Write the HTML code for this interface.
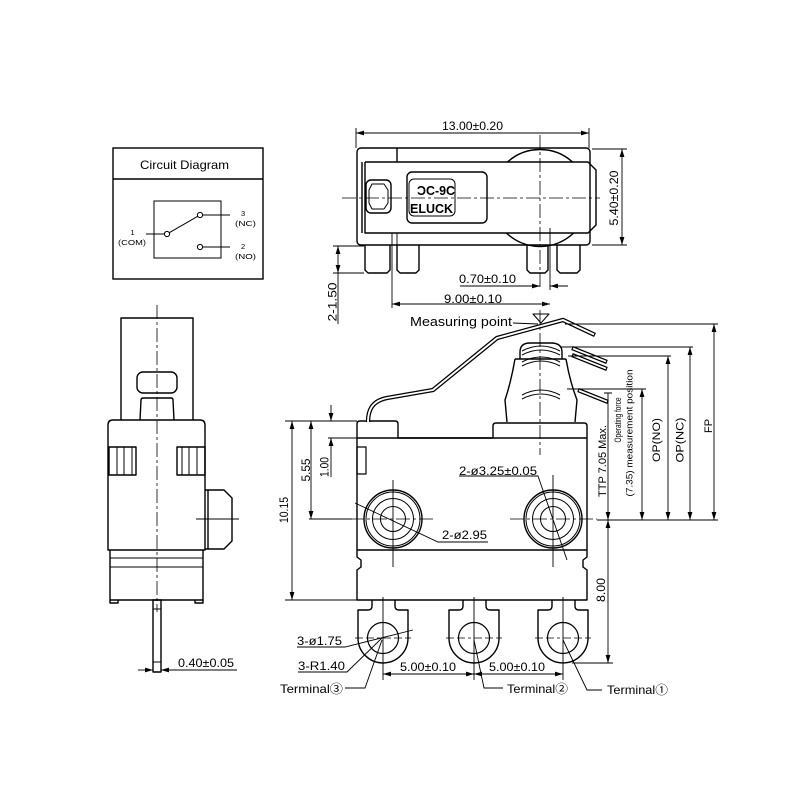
<!DOCTYPE html>
<html><head><meta charset="utf-8"><style>
html,body{margin:0;padding:0;background:#fff}
svg{display:block}
text{font-family:"Liberation Sans","Noto Sans CJK JP","DejaVu Sans",sans-serif;fill:#000}
</style></head><body>
<svg xmlns="http://www.w3.org/2000/svg" width="800" height="800" viewBox="0 0 800 800">
<defs>
<marker id="a" viewBox="0 0 10 6" refX="10" refY="3" markerWidth="8" markerHeight="5" markerUnits="userSpaceOnUse" orient="auto-start-reverse"><path d="M0,0L10,3L0,6z" fill="#000"/></marker>
</defs>
<rect width="800" height="800" fill="#fff"/>

<!-- ===== Circuit diagram ===== -->
<g fill="none" stroke="#000" stroke-width="1.4">
<rect x="113" y="148" width="150" height="131"/>
<line x1="113" y1="179" x2="263" y2="179"/>
<rect x="154" y="201" width="67" height="57" stroke-width="1"/>
<g stroke-width="1">
<circle cx="167" cy="234" r="2.6"/><circle cx="200" cy="215" r="2.6"/><circle cx="200" cy="247" r="2.6"/>
<path d="M146,234H164.4M169.3,232.7L197.7,216.3M202.6,215H230M202.6,247H230"/>
</g>
</g>
<g font-size="12"><text x="140" y="169" textLength="89" lengthAdjust="spacingAndGlyphs">Circuit Diagram</text></g>
<g font-size="7.5">
<text x="130.5" y="235">1</text><text x="118" y="245" textLength="28" lengthAdjust="spacingAndGlyphs">(COM)</text>
<text x="241" y="216">3</text><text x="235" y="226" textLength="21" lengthAdjust="spacingAndGlyphs">(NC)</text>
<text x="241" y="249">2</text><text x="235" y="259" textLength="21" lengthAdjust="spacingAndGlyphs">(NO)</text>
</g>

<!-- ===== Top view ===== -->
<g fill="none" stroke="#000" stroke-width="1.4" stroke-linejoin="round">
<rect x="357" y="148" width="233" height="97" rx="4"/>
<path d="M397,148V162"/>
<path d="M362,162V233M365,162H588L596,170V225L588,233H365V162"/>
<path d="M507.5,162A48.5,48.5 0 0 1 572.5,162M506.4,233A48.5,48.5 0 0 0 573.6,233"/>
<rect x="407" y="172" width="80" height="51" rx="5"/>
<rect x="409" y="179" width="46" height="37" rx="5" stroke-width="1"/>
<rect x="366" y="180" width="25" height="33" rx="5"/>
<path d="M372,184H384L388,190V203L384,209H372L369,203V190Z" stroke-width="1"/>
<path d="M365,245V270L368,273H387L390,270V245"/>
<path d="M397,245V270L400,273H416L419,270V245"/>
<path d="M527,245V270L530,273H545L548,270V245"/>
<path d="M557,245V270L560,273H577L580,270V245"/>
</g>
<g fill="none" stroke="#000" stroke-width="0.8" stroke-dasharray="14,3,3,3">
<path d="M342,198H600"/><path d="M540,135V290"/>
</g>
<g fill="none" stroke="#000" stroke-width="0.9">
<path d="M392,233V308M397,233V245M550,228V290"/>
<path d="M356,128V148M589,128V148"/>
<path d="M356,133H589" marker-start="url(#a)" marker-end="url(#a)"/>
<path d="M592,149H627M592,245H627"/>
<path d="M622,149V245" marker-start="url(#a)" marker-end="url(#a)"/>
<path d="M460,286H540" marker-end="url(#a)"/>
<path d="M568,286H550" marker-end="url(#a)"/>
<path d="M392,304H550" marker-start="url(#a)" marker-end="url(#a)"/>
<path d="M333,246H364M333,273H364"/>
<path d="M338,246V273" marker-start="url(#a)" marker-end="url(#a)"/>
<path d="M338,273V324"/>
</g>
<g font-size="13" font-weight="bold">
<text x="417" y="195" textLength="38" lengthAdjust="spacingAndGlyphs">ƆC-9C</text>
<text x="410" y="213" textLength="43" lengthAdjust="spacingAndGlyphs">ELUCK</text>
</g>
<g font-size="12">
<text x="442" y="130" textLength="61" lengthAdjust="spacingAndGlyphs">13.00±0.20</text>
<text x="459" y="283" textLength="57" lengthAdjust="spacingAndGlyphs">0.70±0.10</text>
<text x="444" y="303" textLength="58" lengthAdjust="spacingAndGlyphs">9.00±0.10</text>
<text transform="translate(618,198) rotate(-90)" text-anchor="middle" textLength="55" lengthAdjust="spacingAndGlyphs">5.40±0.20</text>
<text transform="translate(336.5,302) rotate(-90)" text-anchor="middle" textLength="39" lengthAdjust="spacingAndGlyphs">2-1.50</text>
</g>

<!-- ===== Left side view ===== -->
<g fill="none" stroke="#000" stroke-width="1.4" stroke-linejoin="round">
<path d="M121,420V318H193V420"/>
<rect x="137" y="372" width="40" height="21" rx="6"/>
<path d="M140,420L141,400Q141,398 144,398H171Q173,398 173,400L174,420"/>
<path d="M108,550V425Q108,420 113,420H200Q205,420 205,425V550Z"/>
<rect x="109" y="447" width="27" height="28"/>
<rect x="177" y="447" width="28" height="28"/>
<path d="M117,447V475M124,447V475M132,447V475M182,447V475M189,447V475M197,447V475" stroke-width="1"/>
<path d="M205,490H224L232,498V541L224,549H205M208,490V549"/>
<path d="M110,550V600H203V550"/>
<path d="M110,558H203M110,567H203" stroke-width="1"/>
<path d="M110,600V603H118V600M195,600V603H203V600"/>
<rect x="153" y="600" width="8" height="72"/>
<path d="M153,609H161M153,662H161" stroke-width="0.9"/>
</g>
<g fill="none" stroke="#000" stroke-width="0.9">
<path d="M157,305V612" stroke-dasharray="14,3,3,3" stroke-width="0.8"/>
<path d="M196,519H239"/>
<path d="M138,670H153" marker-end="url(#a)"/>
<path d="M237,670H161" marker-end="url(#a)"/>
</g>
<g font-size="12"><text x="178" y="667" textLength="56" lengthAdjust="spacingAndGlyphs">0.40±0.05</text></g>

<!-- ===== Main front view ===== -->
<g fill="none" stroke="#000" stroke-width="1.4" stroke-linejoin="round">
<path d="M357,600V570L361,567V560L357,557V424Q357,421 360,421H395Q398,421 398,424V438H493V426Q493,423 496,423H584Q587,423 587,426V557L583,560V567L587,570V600Z"/>
<path d="M357,438H587M357,550H587"/>
<rect x="357" y="447" width="9" height="27" stroke-width="1.2"/>
<circle cx="393" cy="519" r="29"/><circle cx="393" cy="519" r="27" stroke-width="1"/><circle cx="393" cy="519" r="20.5" stroke-width="1"/><circle cx="393" cy="519" r="12.5" stroke-width="1"/>
<circle cx="553" cy="519" r="29"/><circle cx="553" cy="519" r="27" stroke-width="1"/><circle cx="553" cy="519" r="20.5" stroke-width="1"/><circle cx="553" cy="519" r="12.5" stroke-width="1"/>
<path d="M520,359V352Q520,343 530,343H551Q562,343 562,352V359"/>
<path d="M515,359H566M515,359Q511,382 505,400L507,422M566,359Q570,382 577,400L575,422"/>
<g stroke-width="1">
<path d="M522,351Q541,341 560,351M522,355Q541,345 560,355"/>
<path d="M522,362Q541,352 560,362M522,366Q541,356 560,366"/>
<path d="M522,395Q541,385 560,395M522,399Q541,389 560,399"/>
</g>
<path d="M372,600V606Q372,610 368,610H358V638A25,25 0 0 0 408,638V610H399Q395,610 395,606V600"/>
<path d="M463,600V606Q463,610 459,610H449V638A25,25 0 0 0 499,638V610H490Q486,610 486,606V600"/>
<path d="M552,600V606Q552,610 548,610H538V638A25,25 0 0 0 588,638V610H579Q575,610 575,606V600"/>
<circle cx="383" cy="638" r="15.5" stroke-width="1.2"/>
<circle cx="474" cy="638" r="15.5" stroke-width="1.2"/>
<circle cx="563" cy="638" r="15.5" stroke-width="1.2"/>
<path d="M533,314H549L541,323Z" stroke-width="1"/>
</g>
<g fill="none" stroke-linejoin="round">
<path d="M368,422C368,410 372,401 387,398L433,390L497,338L563,320L595,335" stroke="#000" stroke-width="4.4"/>
<path d="M368,422C368,410 372,401 387,398L433,390L497,338L563,320L594,334.5" stroke="#fff" stroke-width="1.9"/>
<path d="M572,348L607,362M572,355L607,369M578,390L608,402" stroke="#000" stroke-width="4.2"/>
<path d="M573,348.4L606,361.6M573,355.4L606,368.6M579,390.4L607,401.6" stroke="#fff" stroke-width="1.8"/>
</g>
<g fill="none" stroke="#000" stroke-width="0.8">
<path d="M540,310V455" stroke-dasharray="14,3,3,3"/>
<path d="M350,519H436M510,519H597" stroke-dasharray="14,3,3,3"/>
<path d="M383,638H411M355,638H380M474,638H502M446,638H471M563,638H591M535,638H560" stroke-dasharray="8,3"/>
</g>
<g fill="none" stroke="#000" stroke-width="0.9">
<path d="M393,480V567M553,475V567"/>
<path d="M383,597V680M474,597V680M563,597V680"/>
<path d="M513,323L538,324"/>
<path d="M565,324H718M561,347H693M568,356H671M567,389H646M597,520H718M572,663H613M604,393H612"/>
<path d="M714,324V520" marker-start="url(#a)" marker-end="url(#a)"/>
<path d="M690,347V520" marker-start="url(#a)" marker-end="url(#a)"/>
<path d="M668,356V520" marker-start="url(#a)" marker-end="url(#a)"/>
<path d="M642,389V520" marker-start="url(#a)" marker-end="url(#a)"/>
<path d="M608,393V520" marker-end="url(#a)"/>
<path d="M608,520V663" marker-start="url(#a)" marker-end="url(#a)"/>
<path d="M285,421H357M285,600H357M309,519H352M328,438H357"/>
<path d="M292,421V600" marker-start="url(#a)" marker-end="url(#a)"/>
<path d="M311,421V519" marker-start="url(#a)" marker-end="url(#a)"/>
<path d="M331,405V421" marker-end="url(#a)"/>
<path d="M331,477V438" marker-end="url(#a)"/>
<path d="M355,503L438,542H488"/>
<path d="M459,476H538L567,560"/>
<path d="M383,674H474" marker-start="url(#a)" marker-end="url(#a)"/>
<path d="M474,674H563" marker-start="url(#a)" marker-end="url(#a)"/>
<path d="M297,647H345L413,630"/>
<path d="M298,672H347L382,638"/>
<path d="M345,688H365L382,640"/>
<path d="M474,640L484,688H503"/>
<path d="M563,640L587,690H602"/>
</g>
<g font-size="12">
<text x="410" y="326" font-size="12.5" textLength="102" lengthAdjust="spacingAndGlyphs">Measuring point</text>
<text x="459" y="475" textLength="78" lengthAdjust="spacingAndGlyphs">2-ø3.25±0.05</text>
<text x="442" y="539" textLength="45" lengthAdjust="spacingAndGlyphs">2-ø2.95</text>
<text transform="translate(288,510) rotate(-90)" text-anchor="middle" textLength="26" lengthAdjust="spacingAndGlyphs">10.15</text>
<text transform="translate(310,470) rotate(-90)" text-anchor="middle" textLength="23" lengthAdjust="spacingAndGlyphs">5.55</text>
<text transform="translate(328.5,467) rotate(-90)" text-anchor="middle" textLength="20" lengthAdjust="spacingAndGlyphs">1.00</text>
<text transform="translate(606,461) rotate(-90)" text-anchor="middle" font-size="11" textLength="72" lengthAdjust="spacingAndGlyphs">TTP 7.05 Max.</text>
<text transform="translate(621,420) rotate(-90)" text-anchor="middle" font-size="9.5" textLength="45" lengthAdjust="spacingAndGlyphs">Operating force</text>
<text transform="translate(632.5,433) rotate(-90)" text-anchor="middle" font-size="9.5" textLength="127" lengthAdjust="spacingAndGlyphs">(7.35) measurement position</text>
<text transform="translate(660,440) rotate(-90)" text-anchor="middle" font-size="11" textLength="44" lengthAdjust="spacingAndGlyphs">OP(NO)</text>
<text transform="translate(683.5,440) rotate(-90)" text-anchor="middle" font-size="11" textLength="45" lengthAdjust="spacingAndGlyphs">OP(NC)</text>
<text transform="translate(712,426) rotate(-90)" text-anchor="middle" font-size="11" textLength="14" lengthAdjust="spacingAndGlyphs">FP</text>
<text transform="translate(605,590) rotate(-90)" text-anchor="middle" textLength="24" lengthAdjust="spacingAndGlyphs">8.00</text>
<text x="297" y="645" textLength="45" lengthAdjust="spacingAndGlyphs">3-ø1.75</text>
<text x="298" y="670" textLength="47" lengthAdjust="spacingAndGlyphs">3-R1.40</text>
<text x="400" y="671" textLength="56" lengthAdjust="spacingAndGlyphs">5.00±0.10</text>
<text x="489" y="671" textLength="56" lengthAdjust="spacingAndGlyphs">5.00±0.10</text>
<text x="280" y="693" textLength="63" lengthAdjust="spacingAndGlyphs">Terminal③</text>
<text x="507" y="693" textLength="61" lengthAdjust="spacingAndGlyphs">Terminal②</text>
<text x="607" y="694" textLength="61" lengthAdjust="spacingAndGlyphs">Terminal①</text>
</g>
</svg>
</body></html>
